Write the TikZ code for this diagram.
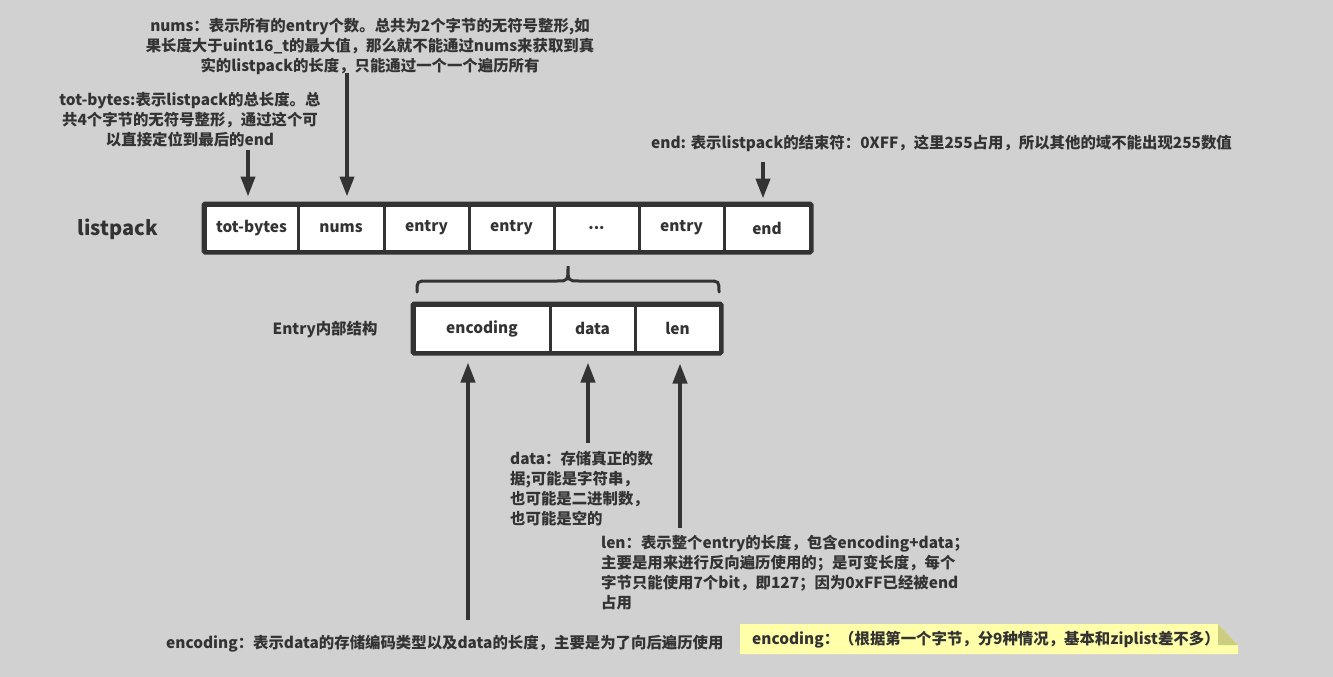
\documentclass[tikz,border=0pt]{standalone}
\usepackage{fontspec}
\setmainfont{Noto Sans CJK SC}
\usetikzlibrary{arrows.meta,calc}
\definecolor{bg}{RGB}{209,209,209}
\definecolor{ink}{RGB}{51,51,51}
\definecolor{noteyellow}{RGB}{255,255,170}
\definecolor{notefold}{RGB}{205,205,130}
\newcommand{\tfont}{\bfseries\fontsize{15.4}{20}\selectfont}
\tikzset{
  txt/.style={font=\tfont, text=ink, inner sep=0pt},
  cellbox/.style={draw=ink, line width=3pt, fill=white, minimum height=46pt,
    inner sep=0pt, font=\tfont, text=ink},
  arr/.style={draw=ink, line width=4pt, -{Triangle[width=14pt,length=20pt]}},
}
\begin{document}
\begin{tikzpicture}[x=1pt,y=-1pt]
\useasboundingbox (0,0) rectangle (1333,677);
\fill[bg] (0,0) rectangle (1333,677);

% listpack row
\node[txt, font=\bfseries\fontsize{20}{24}\selectfont] (lp) at (118,229) {listpack};
\node[cellbox, minimum width=93pt] (c1) at (251.5,228) {\raisebox{-2pt}{tot-bytes}};
\node[cellbox, minimum width=86pt] (c2) at (341,228) {\raisebox{-2pt}{nums}};
\node[cellbox, minimum width=85pt] (c3) at (426.5,228) {\raisebox{-2pt}{entry}};
\node[cellbox, minimum width=85pt] (c4) at (511.5,228) {\raisebox{-2pt}{entry}};
\node[cellbox, minimum width=85pt] (c5) at (596.5,228) {\raisebox{-2pt}{...}};
\node[cellbox, minimum width=85pt] (c6) at (681.5,228) {\raisebox{-2pt}{entry}};
\node[cellbox, minimum width=86pt] (c7) at (767,228) {\raisebox{-2pt}{end}};
\draw[ink, line width=4pt, rounded corners=1.5pt] (c1.north west) rectangle (c7.south east);

% brace
\draw[ink, line width=3pt, line cap=round]
  (417,292) .. controls (417,281) .. (428,281) -- (557,281)
  .. controls (568,281) .. (568,266) .. controls (568,281) .. (579,281)
  -- (708,281) .. controls (719,281) .. (719,292);

% entry row
\node[txt] (entrylbl) at (325,330) {Entry内部结构};
\node[cellbox, minimum width=136pt, minimum height=47pt] (e1) at (482,328.5) {\raisebox{-2pt}{encoding}};
\node[cellbox, minimum width=85pt, minimum height=47pt] (e2) at (592.5,328.5) {\raisebox{-2pt}{data}};
\node[cellbox, minimum width=85pt, minimum height=47pt] (e3) at (677.5,328.5) {\raisebox{-2pt}{len}};
\draw[ink, line width=4pt, rounded corners=1.5pt] (e1.north west) rectangle (e3.south east);

% annotations
\node[txt, align=center] (tnums) at (370,46) {nums：表示所有的entry个数。总共为2个字节的无符号整形,如\\果长度大于uint16\_t的最大值，那么就不能通过nums来获取到真\\实的listpack的长度，只能通过一个一个遍历所有};
\node[txt, align=center] (ttot) at (190,120) {tot-bytes:表示listpack的总长度。总\\共4个字节的无符号整形，通过这个可\\以直接定位到最后的end};
\node[txt, anchor=west] (tend) at (651,143) {end: 表示listpack的结束符：0XFF，这里255占用，所以其他的域不能出现255数值};
\node[txt, align=left, anchor=west] (tdata) at (510,489) {data：存储真正的数\\据;可能是字符串，\\也可能是二进制数，\\也可能是空的};
\node[txt, align=left, anchor=west] (tlen) at (601,573) {len：表示整个entry的长度，包含encoding+data；\\主要是用来进行反向遍历使用的；是可变长度，每个\\字节只能使用7个bit，即127；因为0xFF已经被end\\占用};
\node[txt, anchor=west] (tenc) at (166,644) {encoding：表示data的存储编码类型以及data的长度，主要是为了向后遍历使用};

% note
\fill[noteyellow] (740,624) -- (1218,624) -- (1238,645) -- (1238,654) -- (740,654) -- cycle;
\fill[notefold] (1218,624) -- (1238,645) -- (1218,645) -- cycle;
\node[txt, anchor=west] (tnote) at (752,640) {encoding：（根据第一个字节，分9种情况，基本和ziplist差不多）};

% arrows
\coordinate (s1) at (248,150);
\coordinate (s2) at (347,73);
\coordinate (s3) at (763,162);
\coordinate (s4) at (468,620);
\coordinate (s5) at (588,443);
\coordinate (s6) at (680,528);
\draw[arr, shorten >=7pt] (s1) -- (s1 |- c1.north);
\draw[arr, shorten >=7pt] (s2) -- (s2 |- c2.north);
\draw[arr, shorten >=5pt] (s3) -- (s3 |- c7.north);
\draw[arr, shorten >=9pt] (s4) -- (s4 |- e1.south);
\draw[arr, shorten >=9pt] (s5) -- (s5 |- e2.south);
\draw[arr, shorten >=10pt] (s6) -- (s6 |- e3.south);
\end{tikzpicture}
\end{document}
